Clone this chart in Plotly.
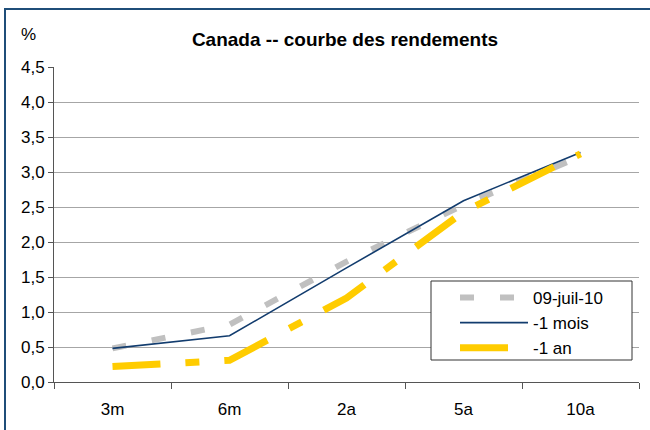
import plotly.graph_objects as go

categories = ["3m", "6m", "2a", "5a", "10a"]
s_today = [0.48, 0.82, 1.72, 2.53, 3.22]
s_month = [0.48, 0.66, 1.63, 2.59, 3.28]
s_year = [0.22, 0.31, 1.20, 2.43, 3.26]
names = ["09-juil-10", "-1 mois", "-1 an"]
y_ticks = [0, 0.5, 1, 1.5, 2, 2.5, 3, 3.5, 4, 4.5]
y_labels = [f"{v:.1f}".replace(".", ",") for v in y_ticks]

FONT = "Liberation Sans, Arial, sans-serif"

# plot area in pixels: x 54..639, y 67..382
L, R, T, B = 54, 639, 67, 382
W, H = R - L, B - T


def px(x):
    return (x - L) / W


def py(y):
    return (B - y) / H


fig = go.Figure()
fig.add_trace(go.Scatter(x=categories, y=s_today, mode="lines", name=names[0],
                         line=dict(color="#C0C0C0", width=6, dash="14px,26px")))
fig.add_trace(go.Scatter(x=categories, y=s_month, mode="lines", name=names[1],
                         line=dict(color="#123C6E", width=1.6)))
fig.add_trace(go.Scatter(x=categories, y=s_year, mode="lines", name=names[2],
                         line=dict(color="#FFCC00", width=7, dash="48px,25px,14px,25px")))

fig.update_layout(
    width=650, height=430,
    margin=dict(l=L, r=650 - R, t=T, b=430 - B),
    paper_bgcolor="white", plot_bgcolor="white",
    font=dict(family=FONT, size=17, color="black"),
    title=dict(text="<b>Canada -- courbe des rendements</b>", x=345 / 650, xanchor="center",
               y=1 - 39 / 430, yanchor="middle", font=dict(size=19, family=FONT)),
    showlegend=True,
    legend=dict(x=px(455), y=py(280), xanchor="left", yanchor="top",
                borderwidth=0, bgcolor="rgba(0,0,0,0)",
                font=dict(size=17, family=FONT), tracegroupgap=0,
                itemwidth=68),
    xaxis=dict(type="category", showgrid=False, showline=True, linecolor="#555555",
               ticks="outside", tickson="boundaries", ticklen=6, tickcolor="#555555",
               tickfont=dict(size=17), range=[-0.5, 4.5], automargin=False,
               ticklabelstandoff=12),
    yaxis=dict(range=[0, 4.5], tickvals=y_ticks, ticktext=y_labels,
               showgrid=True, gridcolor="#A6A6A6", gridwidth=1,
               showline=True, linecolor="#555555", ticks="outside", ticklen=5,
               tickcolor="#555555", tickfont=dict(size=17), zeroline=False,
               automargin=False),
    shapes=[
        dict(type="rect", xref="paper", yref="paper",
             x0=px(5), x1=px(700), y0=py(500), y1=py(9),
             line=dict(color="#1F4E79", width=2), fillcolor="rgba(0,0,0,0)",
             layer="above"),
        dict(type="rect", xref="paper", yref="paper",
             x0=px(431), x1=px(632), y0=py(360), y1=py(281),
             line=dict(color="#333333", width=1), fillcolor="white",
             layer="above"),
    ],
    annotations=[dict(text="%", xref="paper", yref="paper", x=px(28), y=py(35),
                      xanchor="center", yanchor="middle", showarrow=False,
                      font=dict(size=17, family=FONT))],
)

fig.write_html("out.html", config={"displayModeBar": False},
               post_script="document.body.style.margin='0';")
